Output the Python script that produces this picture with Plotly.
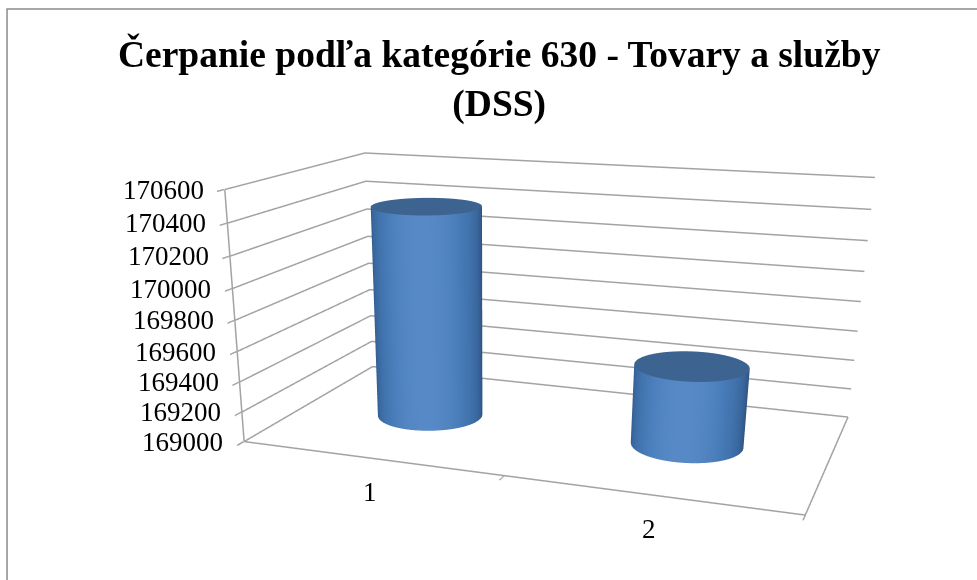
import numpy as np
import plotly.graph_objects as go

categories = ["1", "2"]
values = [170410, 169522]
z_ticks = [169000, 169200, 169400, 169600, 169800, 170000, 170200, 170400, 170600]
x_tick_positions = [0.5, 1.5, 2.5]
title_text = "Čerpanie podľa kategórie 630 - Tovary a služby<br>(DSS)"

WIN_H = 580
CANVAS_H = 1100  # taller canvas gives the narrower field of view of the original; the window clips it
Z0, Z1 = z_ticks[0], z_ticks[-1]
XR = [x_tick_positions[0], x_tick_positions[-1]]
YR = [0.0, 1.0]
ASPECT = dict(x=2.0, y=1.076, z=0.886)
EYE = dict(x=1.444, y=-4.469, z=1.094)
CENTER = dict(x=0.066, y=-0.856, z=-0.575)
RX = 0.2
RY = RX * ASPECT["x"] / 2 / ASPECT["y"]
GRID = "#a3a3a3"
TICK_FONT = dict(size=27, family="Liberation Serif", color="black")
COLS = [[0, "#2d4f7a"], [0.4, "#3a689f"], [0.75, "#467ab6"], [1, "#5689c6"]]
FLAT = dict(ambient=1, diffuse=0, specular=0, roughness=1, fresnel=0)


def line(x, y, z):
    return go.Scatter3d(x=x, y=y, z=z, mode="lines", line=dict(color=GRID, width=3),
                        hoverinfo="skip", showlegend=False)


fig = go.Figure()
for t in z_ticks:
    fig.add_trace(line([XR[0], XR[0], XR[1]], [YR[0], YR[1], YR[1]], [t, t, t]))
fig.add_trace(line([XR[0], XR[0]], [YR[0], YR[0]], [Z0, Z1]))
fig.add_trace(line([XR[0], XR[1], XR[1]], [YR[0], YR[0], YR[1]], [Z0, Z0, Z0]))

th = np.linspace(0, 2 * np.pi, 181)
for i, v in enumerate(values):
    cx = i + 1
    X = np.array([cx + RX * np.cos(th)] * 2)
    Y = np.array([0.5 + RY * np.sin(th)] * 2)
    Z = np.array([[Z0] * len(th), [v] * len(th)])
    view = np.arctan2(EYE["y"], EYE["x"] - (cx - 1.5) * ASPECT["x"] / 2) - np.radians(5)
    shade = np.clip(np.cos(th - view), 0, 1)
    fig.add_trace(go.Surface(x=X, y=Y, z=Z, surfacecolor=np.array([shade, shade]), colorscale=COLS,
                             cmin=0, cmax=1, showscale=False, lighting=FLAT, hoverinfo="skip"))
    r = np.array([0, 1.0])
    Xc = cx + RX * np.outer(r, np.cos(th))
    Yc = 0.5 + RY * np.outer(r, np.sin(th))
    fig.add_trace(go.Surface(x=Xc, y=Yc, z=np.full_like(Xc, v), surfacecolor=np.zeros_like(Xc),
                             colorscale=[[0, "#3d6491"], [1, "#3d6491"]], showscale=False,
                             lighting=FLAT, hoverinfo="skip"))

scene_notes = [dict(x=XR[0], y=YR[0], z=t, text=str(t), showarrow=False, xanchor="right", yanchor="middle",
                    xshift=-19, font=TICK_FONT) for t in z_ticks]
scene_notes += [dict(x=i + 1, y=YR[0], z=Z0, text=c, showarrow=False, xanchor="center", yanchor="middle",
                     xshift=0, yshift=-34, font=TICK_FONT) for i, c in enumerate(categories)]

PAD = 0.002
fig.update_layout(
    width=977, height=CANVAS_H, margin=dict(l=0, r=0, t=0, b=0),
    paper_bgcolor="white", showlegend=False,
    font=dict(family="Liberation Serif", color="black"),
    annotations=[dict(text="<b>" + title_text + "</b>", x=0.5115, y=1 - 31 / CANVAS_H, xref="paper", yref="paper",
                      xanchor="center", yanchor="top", showarrow=False, align="center",
                      font=dict(family="Liberation Serif", size=37.5, color="black"))],
    shapes=[dict(type="rect", xref="paper", yref="paper", x0=0.0072, x1=1.1, y0=-0.1, y1=1 - 9 / CANVAS_H,
                 line=dict(color="#8c8c8c", width=1.5))],
    scene=dict(
        domain=dict(x=[0, 1], y=[0, 1]),
        aspectmode="manual", aspectratio=ASPECT,
        camera=dict(eye=EYE, center=CENTER, up=dict(x=0, y=0, z=1), projection=dict(type="perspective")),
        annotations=scene_notes,
        xaxis=dict(range=[XR[0] - PAD, XR[1] + PAD], tickvals=x_tick_positions, showticklabels=False, title="",
                   showgrid=False, zeroline=False, showbackground=False, showline=False,
                   ticks="outside", tickcolor=GRID, tickwidth=3, ticklen=20, showspikes=False),
        yaxis=dict(range=[YR[0] - PAD, YR[1] + PAD], showticklabels=False, title="", showgrid=False, zeroline=False,
                   showbackground=False, showline=False, ticks="", showspikes=False),
        zaxis=dict(range=[Z0 - 1, Z1 + 1], tickvals=z_ticks, showticklabels=False, title="", showgrid=False,
                   zeroline=False, showbackground=False, showline=False,
                   ticks="outside", tickcolor=GRID, tickwidth=3, ticklen=20, showspikes=False),
    ),
)
fig.write_html("out.html", config=dict(displayModeBar=False),
               post_script="for(const e of [document.documentElement,document.body]){e.style.margin='0';"
                           "e.style.height='%dpx';e.style.overflow='hidden';}" % WIN_H)
